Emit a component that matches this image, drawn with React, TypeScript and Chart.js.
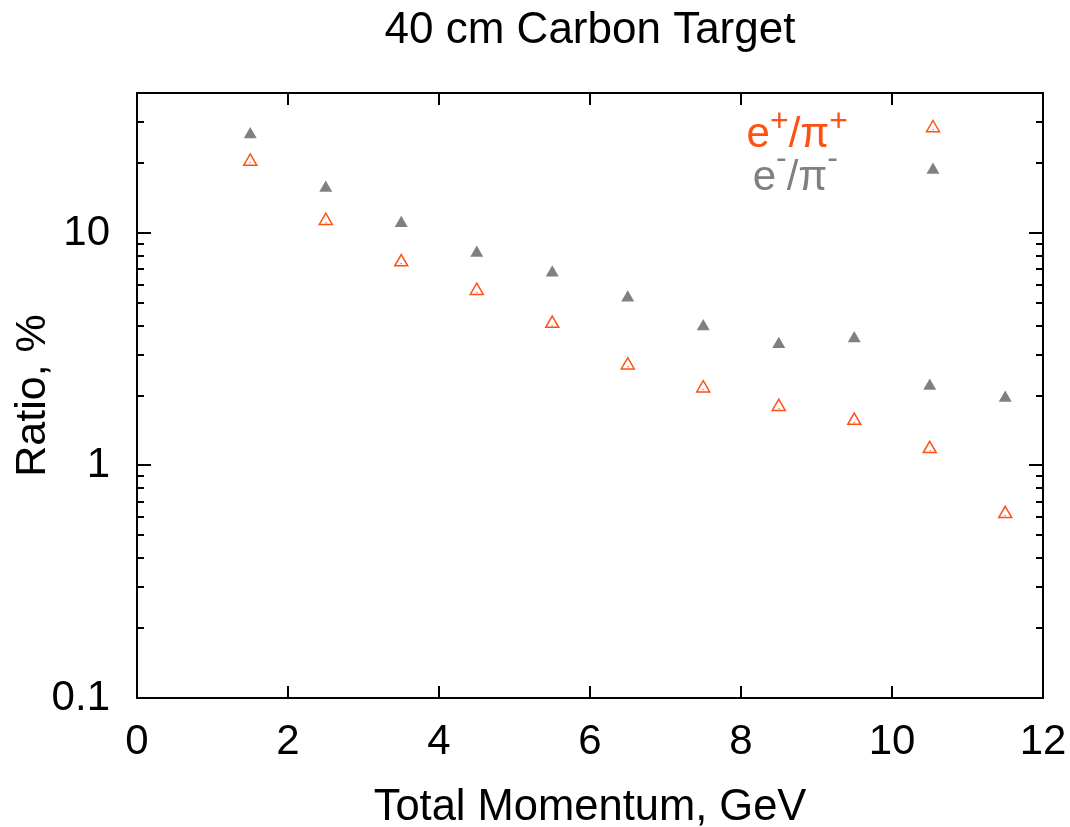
import React, { useEffect, useRef } from "react";
import { Chart, registerables } from "chart.js";

Chart.register(...registerables);

const momentum = [1.5, 2.5, 3.5, 4.5, 5.5, 6.5, 7.5, 8.5, 9.5, 10.5, 11.5];
const positronRatio = [20.3, 11.3, 7.5, 5.65, 4.08, 2.7, 2.15, 1.79, 1.56, 1.18, 0.62];
const electronRatio = [26.5, 15.6, 11.0, 8.2, 6.75, 5.27, 3.96, 3.32, 3.52, 2.2, 1.95];
const xTicks = [0, 2, 4, 6, 8, 10, 12];
const yMajor = [0.1, 1, 10];
const yMinor = [0.2, 0.3, 0.4, 0.5, 0.6, 0.7, 0.8, 0.9, 2, 3, 4, 5, 6, 7, 8, 9, 20, 30];

const ORANGE = "#ff5014";
const GRAY = "#808080";
const FONT = "'Liberation Sans', Arial, sans-serif";

const framePlugin = {
  id: "frame",
  afterDraw(chart: any) {
    const { ctx, chartArea: a, scales } = chart;
    const xs = scales.x, ys = scales.y;
    ctx.save();
    ctx.strokeStyle = "#000";
    ctx.lineWidth = 2;
    ctx.strokeRect(a.left, a.top, a.right - a.left, a.bottom - a.top);
    ctx.beginPath();
    for (const v of xTicks) {
      if (v === 0 || v === 12) continue;
      const px = Math.round(xs.getPixelForValue(v));
      ctx.moveTo(px, a.bottom); ctx.lineTo(px, a.bottom - 12);
      ctx.moveTo(px, a.top); ctx.lineTo(px, a.top + 12);
    }
    for (const v of yMajor) {
      const py = Math.round(ys.getPixelForValue(v));
      ctx.moveTo(a.left, py); ctx.lineTo(a.left + 14, py);
      ctx.moveTo(a.right, py); ctx.lineTo(a.right - 14, py);
    }
    for (const v of yMinor) {
      const py = Math.round(ys.getPixelForValue(v));
      ctx.moveTo(a.left, py); ctx.lineTo(a.left + 7, py);
      ctx.moveTo(a.right, py); ctx.lineTo(a.right - 7, py);
    }
    ctx.stroke();

    // center dots of hollow triangles
    ctx.fillStyle = ORANGE;
    const meta = chart.getDatasetMeta(0);
    for (const el of meta.data) {
      ctx.fillRect(Math.round(el.x) - 0.5, Math.round(el.y) + 1, 1.2, 1.2);
    }

    // titles
    ctx.fillStyle = "#000";
    ctx.font = `44px ${FONT}`;
    ctx.textAlign = "center";
    ctx.textBaseline = "alphabetic";
    const cx = (a.left + a.right) / 2;
    ctx.fillText("40 cm Carbon Target", cx, 43);
    ctx.font = `43.5px ${FONT}`;
    ctx.fillText("Total Momentum, GeV", cx, 820);
    ctx.save();
    ctx.translate(45, (a.top + a.bottom) / 2);
    ctx.rotate(-Math.PI / 2);
    ctx.font = `43px ${FONT}`;
    ctx.fillText("Ratio, %", 0, 0);
    ctx.restore();

    // legend
    const drawLabel = (parts: [string, number, number][], right: number, base: number, color: string) => {
      let total = 0;
      for (const [t, size] of parts) {
        ctx.font = `${size}px ${FONT}`;
        total += ctx.measureText(t).width;
      }
      let x = right - total;
      ctx.fillStyle = color;
      ctx.textAlign = "left";
      for (const [t, size, rise] of parts) {
        ctx.font = `${size}px ${FONT}`;
        ctx.fillText(t, x, base - rise);
        x += ctx.measureText(t).width;
      }
    };
    drawLabel([["e", 42, 0], ["+", 32, 16], ["/\u03c0", 42, 0], ["+", 32, 16]], 848, 147, ORANGE);
    drawLabel([["e", 42, 0], ["-", 32, 22], ["/\u03c0", 42, 0], ["-", 32, 22]], 838, 190, GRAY);

    // legend markers
    const tri = (x: number, y: number, r: number) => {
      ctx.beginPath();
      ctx.moveTo(x, y - r);
      ctx.lineTo(x + r * 0.866, y + r * 0.5);
      ctx.lineTo(x - r * 0.866, y + r * 0.5);
      ctx.closePath();
    };
    ctx.lineWidth = 1.5;
    ctx.strokeStyle = ORANGE;
    tri(933, 128, 7.5);
    ctx.stroke();
    ctx.fillStyle = ORANGE;
    ctx.fillRect(932.5, 129, 1.2, 1.2);
    ctx.fillStyle = GRAY;
    tri(933, 170, 7.5);
    ctx.fill();
    ctx.restore();
  },
};

export default function App() {
  const ref = useRef<HTMLCanvasElement | null>(null);
  useEffect(() => {
    if (!ref.current) return;
    const chart = new Chart(ref.current, {
      type: "scatter",
      data: {
        datasets: [
          {
            label: "e+/pi+",
            data: momentum.map((x, i) => ({ x, y: positronRatio[i] })),
            pointStyle: "triangle",
            pointRadius: 7.5,
            pointBackgroundColor: "rgba(0,0,0,0)",
            pointBorderColor: ORANGE,
            pointBorderWidth: 1.5,
          },
          {
            label: "e-/pi-",
            data: momentum.map((x, i) => ({ x, y: electronRatio[i] })),
            pointStyle: "triangle",
            pointRadius: 7.5,
            pointBackgroundColor: GRAY,
            pointBorderColor: GRAY,
            pointBorderWidth: 0,
          },
        ],
      },
      options: {
        animation: false,
        responsive: false,
        layout: { padding: { top: 93, right: 27, left: 0, bottom: 0 } },
        plugins: { legend: { display: false }, tooltip: { enabled: false }, title: { display: false } },
        scales: {
          x: {
            type: "linear",
            min: 0,
            max: 12,
            grid: { display: false, drawTicks: false },
            border: { display: false },
            afterBuildTicks: (s: any) => { s.ticks = xTicks.map((v) => ({ value: v })); },
            afterFit: (s: any) => { s.height = 129; s.paddingLeft = 0; s.paddingRight = 0; },
            ticks: { padding: 19, color: "#000", font: { size: 42, family: FONT }, maxRotation: 0, autoSkip: false, callback: (v: any) => String(v) },
          },
          y: {
            type: "logarithmic",
            min: 0.1,
            max: 40,
            grid: { display: false, drawTicks: false },
            border: { display: false },
            afterBuildTicks: (s: any) => { s.ticks = yMajor.map((v) => ({ value: v })); },
            afterFit: (s: any) => { s.width = 137; s.paddingTop = 0; s.paddingBottom = 0; },
            ticks: { padding: 27, color: "#000", font: { size: 42, family: FONT }, autoSkip: false, callback: (v: any) => String(v) },
          },
        },
      },
      plugins: [framePlugin],
    });
    return () => chart.destroy();
  }, []);
  return (
    <canvas
      ref={ref}
      width={1070}
      height={827}
      style={{ position: "absolute", left: 0, top: 0, width: 1070, height: 827, background: "#fff" }}
    />
  );
}
